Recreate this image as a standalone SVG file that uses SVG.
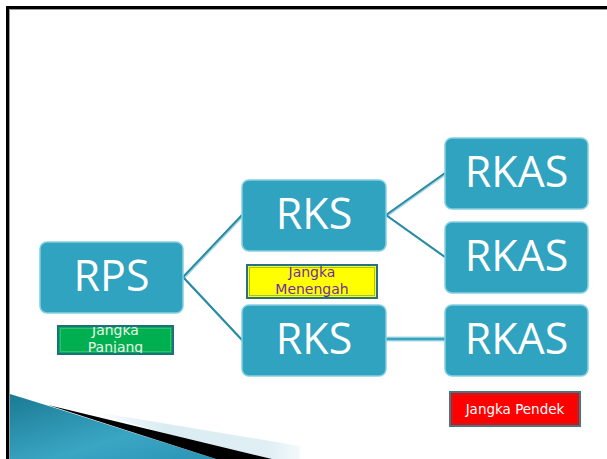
<svg xmlns="http://www.w3.org/2000/svg" width="607" height="459" viewBox="0 0 607 459">
<style>
.node{fill:#2fa3bf;stroke:#86cfdf;stroke-width:1.5}
.nt{font-family:"Open Sans","Noto Sans",sans-serif;font-size:43px;fill:#ffffff;text-anchor:middle}
.lt{font-family:"DejaVu Sans","Verdana",sans-serif;font-size:14px;text-anchor:middle}
.cl{stroke:#9fd6e3;stroke-width:2;fill:none}
.cd{stroke:#2a8aa2;stroke-width:2;fill:none}
</style>
<defs>
<linearGradient id="teal" x1="0" y1="0" x2="1" y2="1">
<stop offset="0" stop-color="#1a7a94"/>
<stop offset="0.6" stop-color="#3aa6c4"/>
<stop offset="1" stop-color="#2a94b4"/>
</linearGradient>
<linearGradient id="lite" x1="0" y1="0" x2="1" y2="0">
<stop offset="0" stop-color="#d6eaf1" stop-opacity="0"/>
<stop offset="0.35" stop-color="#d6eaf1" stop-opacity="0.9"/>
<stop offset="0.85" stop-color="#dcedf3" stop-opacity="0.9"/>
<stop offset="1" stop-color="#dcedf3" stop-opacity="0.3"/>
</linearGradient>
<clipPath id="cpP"><rect x="59" y="327" width="113" height="26"/></clipPath>
<clipPath id="cpM"><rect x="248" y="266" width="128" height="31"/></clipPath>
</defs>
<rect x="0" y="0" width="607" height="459" fill="#ffffff"/>
<!-- frame -->
<rect x="6" y="6" width="601" height="3" fill="#000000"/>
<rect x="9" y="9" width="598" height="1" fill="#9a9a9a"/>
<rect x="6" y="6" width="3" height="453" fill="#000000"/>
<rect x="9" y="9" width="1" height="450" fill="#9a9a9a"/>
<!-- swoosh -->
<polygon points="90,411 300,446 300,459 250,459" fill="url(#lite)"/>
<polygon points="10,394 52,407 216,459 10,459" fill="url(#teal)"/>
<polygon points="48,405 272,459 216,459" fill="#000000"/>
<!-- connectors -->
<g id="connectors">
<path class="cl" d="M184,278 L243,216 M184,278 L243,341 M387,216 L446,174 M387,216 L446,258"/>
<path class="cd" d="M183,277 L242,215 M183,277 L242,340 M386,215 L445,173 M386,215 L445,257"/>
<line x1="386" y1="339" x2="445" y2="339" stroke="#a9dbe6" stroke-width="5"/>
<line x1="386" y1="339" x2="445" y2="339" stroke="#3aa3bd" stroke-width="2.5"/>
</g>
<g id="rps">
<rect class="node" x="40" y="242" width="143" height="71" rx="7"/>
<text class="nt" x="111.5" y="291">RPS</text>
</g>
<g id="rks1">
<rect class="node" x="242" y="180" width="144" height="71" rx="7"/>
<text class="nt" x="314" y="229">RKS</text>
</g>
<g id="rks2">
<rect class="node" x="242" y="305" width="144" height="71" rx="7"/>
<text class="nt" x="314" y="354">RKS</text>
</g>
<g id="rkas1">
<rect class="node" x="445" y="138" width="143" height="71" rx="7"/>
<text class="nt" x="516.5" y="187">RKAS</text>
</g>
<g id="rkas2">
<rect class="node" x="445" y="222" width="143" height="71" rx="7"/>
<text class="nt" x="516.5" y="271">RKAS</text>
</g>
<g id="rkas3">
<rect class="node" x="445" y="305" width="143" height="71" rx="7"/>
<text class="nt" x="516.5" y="354">RKAS</text>
</g>
<g id="label-panjang">
<rect x="58" y="326" width="115" height="28" fill="#00b050" stroke="#1f6f80" stroke-width="2"/>
<rect x="60.5" y="328.5" width="110" height="23" fill="none" stroke="#2fc070" stroke-width="1"/>
<g clip-path="url(#cpP)">
<text class="lt" fill="#e6f5e6"><tspan x="115.5" y="335">Jangka</tspan><tspan x="115.5" y="352">Panjang</tspan></text>
</g>
</g>
<g id="label-menengah">
<rect x="247" y="265" width="130" height="33" fill="#ffff00" stroke="#2a7080" stroke-width="2"/>
<rect x="249.5" y="267.5" width="125" height="28" fill="none" stroke="#9cc040" stroke-width="1"/>
<g clip-path="url(#cpM)">
<text class="lt" fill="#7030a0"><tspan x="312" y="277">Jangka</tspan><tspan x="312" y="294">Menengah</tspan></text>
</g>
</g>
<g id="label-pendek">
<rect x="450" y="392" width="130" height="34" fill="#ff0000" stroke="#3a7a8a" stroke-width="2"/>
<rect x="452.5" y="394.5" width="125" height="29" fill="none" stroke="#c02020" stroke-width="1"/>
<text class="lt" x="515" y="414" fill="#ffffff" style="font-size:13.5px">Jangka Pendek</text>
</g>
</svg>
